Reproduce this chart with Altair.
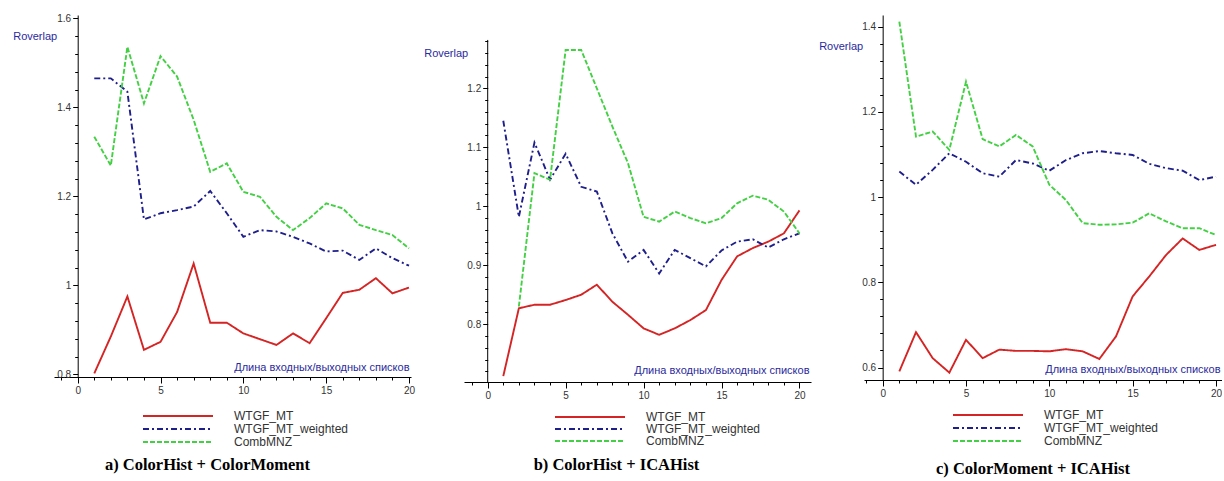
import altair as alt
import pandas as pd

x_vals = list(range(1, 21))
series_names = ["WTGF_MT", "WTGF_MT_weighted", "CombMNZ"]
series_colors = ["#d42424", "#1f1f8c", "#44d044"]
series_dashes = [[1, 0], [6, 3, 2, 3], [5, 2]]

# panel a) ColorHist + ColorMoment
a_wtgf = [0.802, 0.885, 0.975, 0.855, 0.873, 0.940, 1.049, 0.916, 0.916, 0.892,
          0.879, 0.866, 0.892, 0.870, 0.926, 0.983, 0.990, 1.016, 0.982, 0.995]
a_weighted = [1.465, 1.465, 1.435, 1.148, 1.162, 1.169, 1.177, 1.212, 1.162, 1.109,
              1.124, 1.121, 1.109, 1.094, 1.076, 1.078, 1.057, 1.083, 1.061, 1.044]
a_combmnz = [1.334, 1.269, 1.536, 1.409, 1.515, 1.469, 1.372, 1.255, 1.274, 1.210,
             1.199, 1.154, 1.124, 1.151, 1.184, 1.173, 1.136, 1.124, 1.113, 1.083]

# panel b) ColorHist + ICAHist
b_wtgf = [0.712, 0.827, 0.833, 0.833, 0.841, 0.850, 0.867, 0.838, 0.816, 0.793,
          0.782, 0.793, 0.807, 0.824, 0.875, 0.915, 0.929, 0.940, 0.954, 0.993]
b_weighted = [1.145, 0.982, 1.108, 1.045, 1.089, 1.033, 1.025, 0.954, 0.906, 0.926,
              0.886, 0.926, 0.912, 0.898, 0.925, 0.940, 0.944, 0.930, 0.944, 0.954]
b_combmnz = [None, 0.830, 1.056, 1.045, 1.265, 1.265, 1.200, 1.135, 1.073, 0.982,
             0.974, 0.991, 0.980, 0.971, 0.980, 1.005, 1.018, 1.011, 0.991, 0.954]

# panel c) ColorMoment + ICAHist
c_wtgf = [0.591, 0.683, 0.622, 0.588, 0.665, 0.622, 0.642, 0.639, 0.639, 0.638,
          0.643, 0.638, 0.620, 0.673, 0.767, 0.814, 0.864, 0.903, 0.876, 0.888]
c_weighted = [1.060, 1.029, 1.064, 1.103, 1.083, 1.056, 1.048, 1.087, 1.079, 1.062,
              1.087, 1.103, 1.108, 1.103, 1.099, 1.078, 1.068, 1.062, 1.040, 1.048]
c_combmnz = [1.412, 1.142, 1.154, 1.111, 1.271, 1.136, 1.119, 1.146, 1.119, 1.029,
             0.993, 0.939, 0.935, 0.936, 0.940, 0.962, 0.943, 0.927, 0.927, 0.911]

panel_titles = ["a) ColorHist + ColorMoment", "b) ColorHist + ICAHist", "c) ColorMoment + ICAHist"]
y_title = "Roverlap"
x_title = "Длина входных/выходных списков"

x_major = [0, 5, 10, 15, 20]
x_ticks = list(range(-1, 21))
y_major_a = [0.8, 1, 1.2, 1.4, 1.6]
y_major_b = [0.8, 0.9, 1, 1.1, 1.2]
y_major_c = [0.6, 0.8, 1, 1.2, 1.4]


def minor_ticks(lo, hi, step):
    n = int(round((hi - lo) / step))
    return [round(lo + i * step, 4) for i in range(n + 1)]


panels = [
    dict(series=[a_wtgf, a_weighted, a_combmnz], xdom=[-1.43, 20.12], ydom=[0.794, 1.6074],
         width=357, height=362, yticks=minor_ticks(0.8, 1.6, 0.04), ymajor=y_major_a,
         ytitle=(-65, 21), xtitleY=-5, legend=(118, 395), rowpad=1, dx=-25, toff=9, axis_hi=None),
    dict(series=[b_wtgf, b_weighted, b_combmnz], xdom=[-1.52, 20.74], ydom=[0.702, 1.3243],
         width=347, height=367, yticks=minor_ticks(0.72, 1.28, 0.02), ymajor=y_major_b,
         ytitle=(-64, 38), xtitleY=-7, legend=(120, 396), rowpad=0, dx=-21, toff=10, axis_hi=1.282),
    dict(series=[c_wtgf, c_weighted, c_combmnz], xdom=[-1.12, 20.36], ydom=[0.5707, 1.4275],
         width=358, height=365, yticks=minor_ticks(0.6, 1.4, 0.04), ymajor=y_major_c,
         ytitle=(-64, 31), xtitleY=-6, legend=(118, 394), rowpad=1, dx=-10, toff=14, axis_hi=None),
]

label_font = "Liberation Sans"
blue_text = "#2a2a9e"


def make_panel(i, p):
    rows = []
    for name, vals in zip(series_names, p["series"]):
        for xv, yv in zip(x_vals, vals):
            if yv is not None:
                rows.append({"x": xv, "value": yv, "series": name})
    df = pd.DataFrame(rows)

    w = p["width"]
    xoff = -(0 - p["xdom"][0]) / (p["xdom"][1] - p["xdom"][0]) * w
    maj_y = "[" + ",".join(str(v) for v in p["ymajor"]) + "]"
    maj_x = "[" + ",".join(str(v) for v in x_major) + "]"

    leg = alt.Legend(
        orient="none", legendX=p["legend"][0], legendY=p["legend"][1], title=None,
        symbolType="M-8.75,0H8.75", symbolSize=64, symbolStrokeWidth=2,
        symbolOffset=0, labelOffset=50, labelFont=label_font, labelFontSize=12,
        labelColor="#333333", rowPadding=p["rowpad"], direction="vertical",
    )

    x_axis = alt.Axis(
        values=x_ticks, labelExpr=f"indexof({maj_x}, datum.value) >= 0 ? datum.label : ''",
        tickSize={"condition": {"test": f"indexof({maj_x}, datum.value) >= 0", "value": 6}, "value": 3},
        labelFont=label_font, labelFontSize=10, labelColor="#333333", labelPadding=2,
        labelOverlap=False, labelFlush=False, grid=False, domainColor="black", tickColor="black",
        title=x_title, titleFont=label_font, titleFontSize=11, titleFontWeight="normal",
        titleColor=blue_text, titleX=w - 2, titleY=p["xtitleY"], titleAlign="right",
        titleBaseline="bottom", titleAngle=0,
    )
    y_axis = alt.Axis(
        values=p["yticks"], offset=xoff, format="~g",
        labelExpr=f"indexof({maj_y}, datum.value) >= 0 ? datum.label : ''",
        tickSize={"condition": {"test": f"indexof({maj_y}, datum.value) >= 0", "value": 5}, "value": 3},
        labelFont=label_font, labelFontSize=10, labelColor="#333333", labelPadding=2,
        labelOverlap=False, labelFlush=False, grid=False, domain=p["axis_hi"] is None,
        domainColor="black", tickColor="black",
        title=y_title, titleFont=label_font, titleFontSize=11, titleFontWeight="normal",
        titleColor=blue_text, titleAngle=0, titleAlign="left", titleBaseline="middle",
        titleX=p["ytitle"][0], titleY=p["ytitle"][1],
    )

    xs = alt.Scale(domain=p["xdom"], nice=False, zero=False)
    ys = alt.Scale(domain=p["ydom"], nice=False, zero=False)

    lines = alt.Chart(df).mark_line(strokeWidth=1.9, clip=True).encode(
        x=alt.X("x:Q", scale=xs, axis=x_axis),
        y=alt.Y("value:Q", scale=ys, axis=y_axis),
        color=alt.Color("series:N", scale=alt.Scale(domain=series_names, range=series_colors), legend=leg),
        strokeDash=alt.StrokeDash("series:N", scale=alt.Scale(domain=series_names, range=series_dashes), legend=leg),
        order=alt.Order("x:Q"),
    )
    layers = [lines]
    if p["axis_hi"] is not None:
        rule_df = pd.DataFrame({"x": [0], "value": [p["ydom"][0]], "hi": [p["axis_hi"]]})
        rule = alt.Chart(rule_df).mark_rule(color="black", strokeWidth=1).encode(
            x=alt.X("x:Q", scale=xs, axis=x_axis),
            y=alt.Y("value:Q", scale=ys, axis=y_axis),
            y2="hi:Q")
        layers.append(rule)
    chart = alt.layer(*layers).properties(
        width=w, height=p["height"],
        title=alt.TitleParams(panel_titles[i], orient="bottom", font="Liberation Serif",
                              fontSize=16.5, fontWeight="bold", color="black", dx=p["dx"],
                              offset=p["toff"]),
    )
    return chart


charts = [make_panel(i, p) for i, p in enumerate(panels)]

chart = alt.hconcat(*charts, spacing=53, bounds="flush").resolve_scale(
    x="independent", y="independent", color="independent", strokeDash="independent"
).resolve_legend(color="independent", strokeDash="independent").properties(
    padding={"left": 12, "top": 13, "right": 0, "bottom": 0}, background="white"
).configure_view(stroke=None)

chart.save("out.html", embed_options={"renderer": "svg", "actions": False})
